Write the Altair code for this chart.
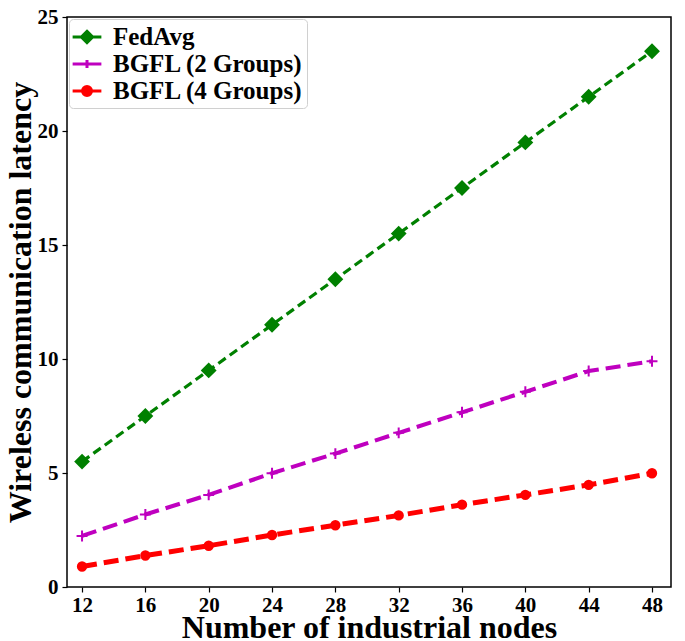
import altair as alt
import pandas as pd

nodes = [12, 16, 20, 24, 28, 32, 36, 40, 44, 48]
fedavg = [5.5, 7.5, 9.5, 11.5, 13.5, 15.5, 17.5, 19.5, 21.5, 23.5]
bgfl2 = [2.24, 3.18, 4.04, 4.99, 5.85, 6.76, 7.66, 8.56, 9.47, 9.9]
bgfl4 = [0.9, 1.38, 1.81, 2.28, 2.71, 3.14, 3.61, 4.04, 4.48, 4.99]

series_names = ["FedAvg", "BGFL (2 Groups)", "BGFL (4 Groups)"]
series_values = [fedavg, bgfl2, bgfl4]
colors = ["#008000", "#BF00BF", "#FF0000"]

rows = []
for name, vals in zip(series_names, series_values):
    for n, v in zip(nodes, vals):
        rows.append({"nodes": n, "latency": v, "series": name})
df = pd.DataFrame(rows)

FONT = "Liberation Serif"

color_scale = alt.Scale(domain=series_names, range=colors)
plot_shapes = alt.Scale(
    domain=series_names,
    range=["diamond", "M-1,0H1M0,-1V1", "circle"],
)
legend_shapes = alt.Scale(
    domain=series_names,
    range=[
        "M-1.15,0H1.15M0,-0.45L0.45,0L0,0.45L-0.45,0Z",
        "M-1.15,0H1.15M0,-0.32V0.32",
        "M-1.15,0H1.15M0.36,0A0.36,0.36 0 1,1 -0.36,0A0.36,0.36 0 1,1 0.36,0Z",
    ],
)

x_enc = alt.X(
    "nodes:Q",
    scale=alt.Scale(domain=[11.05, 49.2], nice=False, zero=False),
    axis=alt.Axis(
        values=nodes,
        title="Number of industrial nodes",
        grid=False,
        labelFont=FONT, labelFontSize=21, labelFontWeight="bold", labelColor="black",
        titleFont=FONT, titleFontSize=32, titleFontWeight="bold", titleColor="black",
        tickColor="black", tickSize=5, tickWidth=1.2, domain=False,
        labelPadding=2, titlePadding=-3,
    ),
)
y_enc = alt.Y(
    "latency:Q",
    scale=alt.Scale(domain=[0, 25], nice=False),
    axis=alt.Axis(
        values=[0, 5, 10, 15, 20, 25],
        title="Wireless communication latency",
        grid=False,
        labelFont=FONT, labelFontSize=21, labelFontWeight="bold", labelColor="black",
        titleFont=FONT, titleFontSize=32, titleFontWeight="bold", titleColor="black",
        tickColor="black", tickSize=5, tickWidth=1.2, domain=False,
        labelPadding=4, titlePadding=0,
    ),
)

base = alt.Chart(df)

lines = base.mark_line().encode(
    x=x_enc,
    y=y_enc,
    color=alt.Color("series:N", scale=color_scale, legend=None),
    strokeDash=alt.StrokeDash(
        "series:N",
        scale=alt.Scale(domain=series_names, range=[[9, 5], [15, 7], [15, 7]]),
        legend=None,
    ),
    strokeWidth=alt.StrokeWidth(
        "series:N",
        scale=alt.Scale(domain=series_names, range=[3.2, 5, 5]),
        legend=None,
    ),
)

points = base.mark_point(filled=True, opacity=1, strokeWidth=2).encode(
    x="nodes:Q",
    y="latency:Q",
    fill=alt.Fill("series:N", scale=color_scale, legend=None),
    stroke=alt.Stroke("series:N", scale=color_scale, legend=None),
    shape=alt.Shape("series:N", scale=plot_shapes, legend=None),
    size=alt.Size(
        "series:N",
        scale=alt.Scale(domain=series_names, range=[170, 70, 120]),
        legend=None,
    ),
)

leg = alt.Legend(
    title=None,
    orient="top-left",
    offset=2,
    symbolSize=625,
    symbolStrokeWidth=3,
    symbolOpacity=1,
    labelFont=FONT,
    labelFontSize=25,
    labelFontWeight="bold",
    labelColor="black",
    labelLimit=400,
    labelOffset=12,
    rowPadding=0,
    padding=4,
    strokeColor="#d0d0d0",
    fillColor="white",
    cornerRadius=4,
)

legend_layer = base.mark_point(filled=True, opacity=0).encode(
    x="nodes:Q",
    y="latency:Q",
    fill=alt.Fill("series:N", scale=alt.Scale(domain=series_names, range=colors), legend=leg),
    stroke=alt.Stroke("series:N", scale=alt.Scale(domain=series_names, range=colors), legend=leg),
    shape=alt.Shape("series:N", scale=legend_shapes, legend=leg),
)

chart = (
    alt.layer(lines, points, legend_layer)
    .resolve_scale(fill="independent", stroke="independent", shape="independent", size="independent")
    .properties(
        width=604,
        height=570,
        autosize=alt.AutoSizeParams(type="none"),
        padding={"left": 59, "top": 9, "right": 6, "bottom": 70},
    )
    .configure_view(stroke="black", strokeWidth=1.5)
)

chart.save("out.html", embed_options={"renderer": "svg", "actions": False})
